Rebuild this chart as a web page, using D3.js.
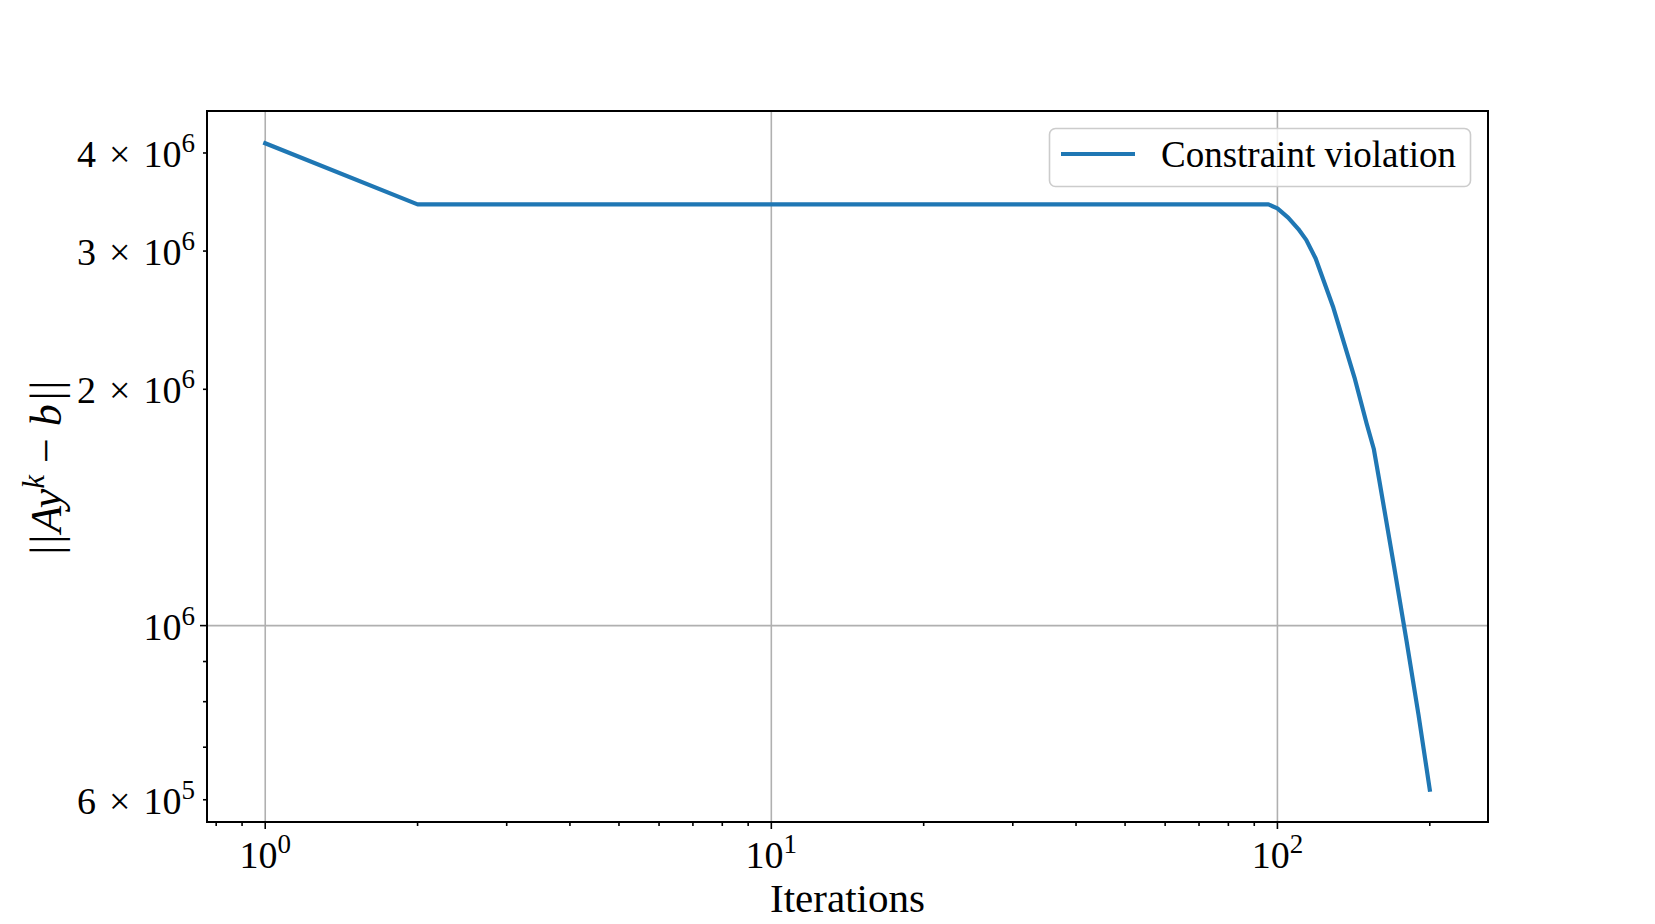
<!DOCTYPE html>
<html>
<head>
<meta charset="utf-8">
<script src="https://cdn.jsdelivr.net/npm/d3@7"></script>
<style>
  html, body { margin: 0; padding: 0; background: #fff; }
  svg text { font-family: "Liberation Serif", "Times New Roman", serif; fill: #000; }
</style>
</head>
<body>
<svg id="chart"></svg>
<script>
// Figure size
const width = 1655, height = 924;
const margin = { top: 111, right: 167, bottom: 102, left: 207 };

// Data (iteration, ||Ay^k - b||)
const iterations = [1, 2, 10, 50, 96, 100, 105, 110, 114, 119, 129, 142, 150, 155, 159, 170, 180, 190, 200];
const violation = [4.115e6, 3.44e6, 3.44e6, 3.44e6, 3.44e6, 3.40e6, 3.31e6, 3.20e6, 3.10e6, 2.935e6, 2.54e6, 2.07e6, 1.81e6, 1.68e6, 1.53e6, 1.19e6, 0.955e6, 0.77e6, 0.618e6];
const seriesName = "Constraint violation";

// Ticks
const xMajor = [1, 10, 100];
const xMajorLabels = ["0", "1", "2"];
const xMinor = [0.8, 0.9, 2, 3, 4, 5, 6, 7, 8, 9, 20, 30, 40, 50, 60, 70, 80, 90, 200];
const yMajor = [1e6];
const yMinor = [6e5, 7e5, 8e5, 9e5, 2e6, 3e6, 4e6];
const yLabels = [
  { v: 4e6, m: "4", e: "6" },
  { v: 3e6, m: "3", e: "6" },
  { v: 2e6, m: "2", e: "6" },
  { v: 1e6, m: null, e: "6" },
  { v: 6e5, m: "6", e: "5" }
];

const data = iterations.map((it, i) => ({ it, v: violation[i] }));

const svg = d3.select("#chart")
  .attr("width", width)
  .attr("height", height);

// log domains with matplotlib-like 5% margins
function logPad(ext) {
  const a = Math.log10(ext[0]), b = Math.log10(ext[1]);
  const p = (b - a) * 0.05;
  return [Math.pow(10, a - p), Math.pow(10, b + p)];
}

const x = d3.scaleLog()
  .domain(logPad(d3.extent(iterations)))
  .range([margin.left, width - margin.right]);

const y = d3.scaleLog()
  .domain(logPad(d3.extent(violation)))
  .range([height - margin.bottom, margin.top]);

const x0 = margin.left, x1 = width - margin.right;
const y0 = height - margin.bottom, y1 = margin.top;

// Grid (major only)
const grid = svg.append("g").attr("stroke", "#b0b0b0").attr("stroke-width", 1.6);
grid.selectAll(".gx").data(xMajor).join("line")
  .attr("x1", d => x(d)).attr("x2", d => x(d))
  .attr("y1", y0).attr("y2", y1);
grid.selectAll(".gy").data(yMajor).join("line")
  .attr("x1", x0).attr("x2", x1)
  .attr("y1", d => y(d)).attr("y2", d => y(d));

// Line
const line = d3.line()
  .x(d => x(d.it))
  .y(d => y(d.v));

svg.append("path")
  .datum(data)
  .attr("fill", "none")
  .attr("stroke", "#1f77b4")
  .attr("stroke-width", 4.2)
  .attr("stroke-linejoin", "round")
  .attr("stroke-linecap", "square")
  .attr("d", line);

// Ticks
const ticks = svg.append("g").attr("stroke", "#000").attr("stroke-width", 1.6);
ticks.selectAll(".xM").data(xMajor).join("line")
  .attr("x1", d => x(d)).attr("x2", d => x(d))
  .attr("y1", y0).attr("y2", y0 + 7);
ticks.selectAll(".xm").data(xMinor).join("line")
  .attr("x1", d => x(d)).attr("x2", d => x(d))
  .attr("y1", y0).attr("y2", y0 + 4);
ticks.selectAll(".yM").data(yMajor).join("line")
  .attr("x1", x0).attr("x2", x0 - 7)
  .attr("y1", d => y(d)).attr("y2", d => y(d));
ticks.selectAll(".ym").data(yMinor).join("line")
  .attr("x1", x0).attr("x2", x0 - 4)
  .attr("y1", d => y(d)).attr("y2", d => y(d));

// Frame
svg.append("rect")
  .attr("x", x0).attr("y", y1)
  .attr("width", x1 - x0).attr("height", y0 - y1)
  .attr("fill", "none")
  .attr("stroke", "#000")
  .attr("stroke-width", 2);

// X tick labels
const xl = svg.append("g").selectAll("text").data(xMajor).join("text")
  .attr("x", d => x(d))
  .attr("y", y0 + 46)
  .attr("text-anchor", "middle")
  .style("font-size", "38px");
xl.append("tspan").text("10");
xl.append("tspan").text((d, i) => xMajorLabels[i])
  .attr("dy", -15).style("font-size", "27px");

// Y tick labels
const yl = svg.append("g").selectAll("text").data(yLabels).join("text")
  .attr("x", x0 - 12)
  .attr("y", d => y(d.v) + 14)
  .attr("text-anchor", "end")
  .style("font-size", "38px");
yl.each(function(d) {
  const t = d3.select(this);
  if (d.m) {
    t.append("tspan").text(d.m);
    t.append("tspan").attr("dx", 13).text("\u00d7");
    t.append("tspan").attr("dx", 13).text("10");
  } else {
    t.append("tspan").text("10");
  }
  t.append("tspan").text(d.e).attr("dy", -15).style("font-size", "27px");
});

// Axis titles
svg.append("text")
  .attr("x", (x0 + x1) / 2)
  .attr("y", height - 12)
  .attr("text-anchor", "middle")
  .style("font-size", "41px")
  .text("Iterations");

const yt = svg.append("text")
  .attr("transform", `translate(61,${(y0 + y1) / 2}) rotate(-90)`)
  .attr("text-anchor", "middle")
  .style("font-size", "44px");
yt.append("tspan").text("||").attr("letter-spacing", 2);
yt.append("tspan").text("Ay").style("font-style", "italic");
yt.append("tspan").text("k").style("font-style", "italic").style("font-size", "31px").attr("dy", -17);
yt.append("tspan").text("\u2212").attr("dy", 17).attr("dx", 12);
yt.append("tspan").text("b").style("font-style", "italic").attr("dx", 12);
yt.append("tspan").text("||").attr("dx", 4).attr("letter-spacing", 2);

// Legend
const lg = svg.append("g");
lg.append("rect")
  .attr("x", 1049.5).attr("y", 128.5)
  .attr("width", 421).attr("height", 58)
  .attr("rx", 6)
  .attr("fill", "#fff").attr("fill-opacity", 0.8)
  .attr("stroke", "#cccccc").attr("stroke-width", 1.6);
lg.append("line")
  .attr("x1", 1061).attr("x2", 1135)
  .attr("y1", 154).attr("y2", 154)
  .attr("stroke", "#1f77b4").attr("stroke-width", 4.2);
lg.append("text")
  .attr("x", 1161).attr("y", 167)
  .style("font-size", "37px")
  .text(seriesName);
</script>
</body>
</html>
